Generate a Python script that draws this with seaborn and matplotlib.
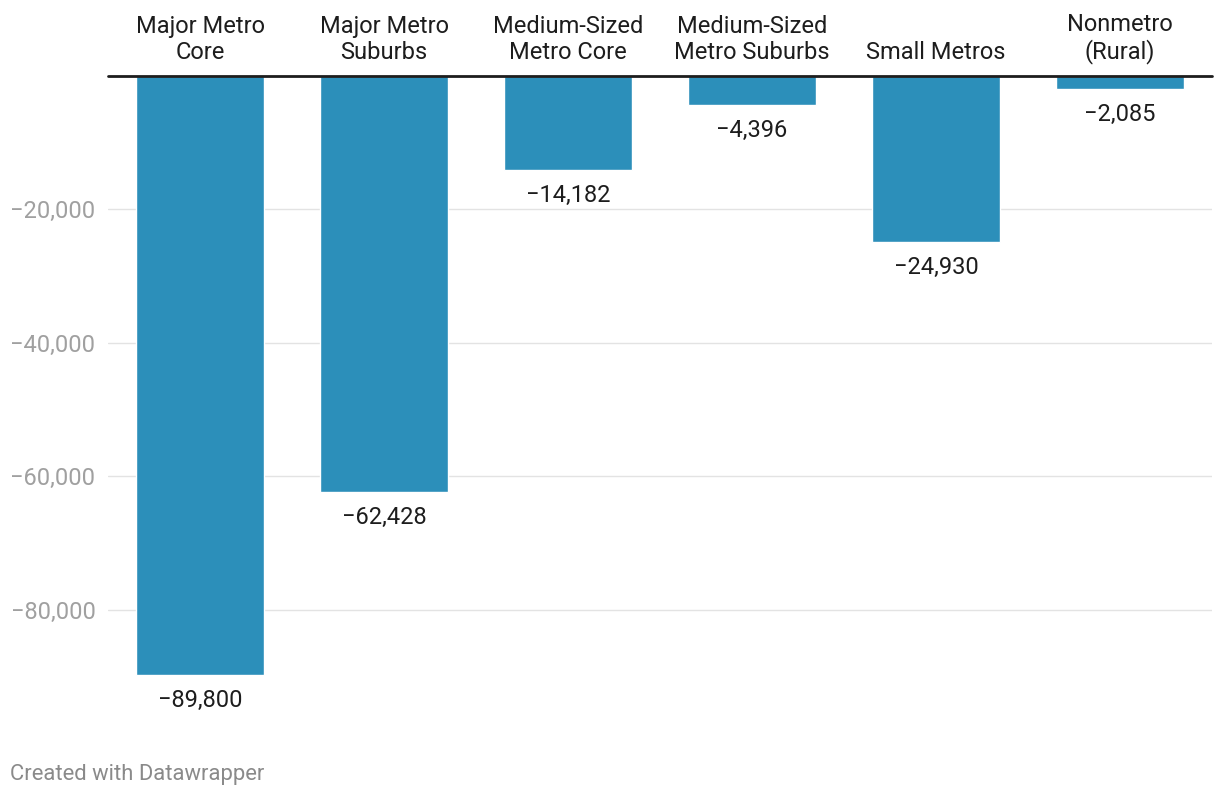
import pandas as pd
import seaborn as sns
import matplotlib.pyplot as plt
from matplotlib.ticker import FuncFormatter

categories = ['Major Metro\nCore', 'Major Metro\nSuburbs', 'Medium-Sized\nMetro Core',
              'Medium-Sized\nMetro Suburbs', 'Small Metros', 'Nonmetro\n(Rural)']
values = [-89800, -62428, -14182, -4396, -24930, -2085]
y_ticks = [-20000, -40000, -60000, -80000]

bar_color = '#2c8fba'


def fmt(v, pos=None):
    s = f'{abs(v):,.0f}'
    return '\u2212' + s if v < 0 else s


df = pd.DataFrame({'category': categories, 'value': values})

sns.set_style('white')
plt.rcParams['font.family'] = ['Roboto', 'DejaVu Sans']

fig = plt.figure(figsize=(12.2, 7.96), dpi=100)
ax = fig.add_axes([108 / 1220, 0.1168, 1104 / 1220, 0.7883])

sns.barplot(data=df, x='category', y='value', color=bar_color, width=0.7,
            saturation=1, ax=ax, zorder=2)

ax.set_xlim(-0.5, 5.5)
ax.set_ylim(-94000, 0)
ax.set_yticks(y_ticks)
ax.yaxis.set_major_formatter(FuncFormatter(fmt))
ax.tick_params(axis='y', length=0, pad=9, labelsize=17, labelcolor='#a0a0a0')
ax.grid(axis='y', color='#e3e3e3', linewidth=1, zorder=0)

ax.xaxis.tick_top()
ax.tick_params(axis='x', length=0, pad=8, labelsize=17, labelcolor='#1d1d1d')
for lbl in ax.get_xticklabels():
    lbl.set_linespacing(1.2)

ax.set_xlabel('')
ax.set_ylabel('')
for s in ax.spines.values():
    s.set_visible(False)
ax.axhline(0, color='#1d1d1d', linewidth=2, zorder=3, clip_on=False)

# value labels under each bar
for i, v in enumerate(values):
    ax.annotate(fmt(v), xy=(i, v), xytext=(0, -23), textcoords='offset points',
                ha='center', va='baseline', fontsize=17, color='#1d1d1d')

fig.text(10 / 1220, 1 - 780 / 796, 'Created with Datawrapper', fontsize=15.8,
         color='#8a8a8a', ha='left', va='baseline')

fig.savefig('out.png', dpi=100)
